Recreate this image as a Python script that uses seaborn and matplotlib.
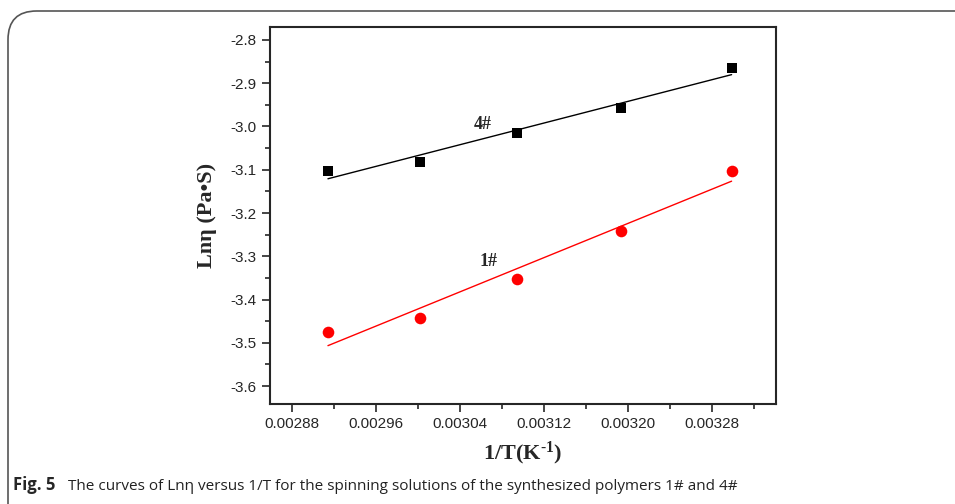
import numpy as np
import pandas as pd
import matplotlib
matplotlib.use('Agg')
import matplotlib.pyplot as plt
from matplotlib.patches import FancyBboxPatch
from matplotlib.ticker import MultipleLocator, FormatStrFormatter
import seaborn as sns

# Data
inv_T = [0.0029142, 0.0030017, 0.0030945, 0.0031934, 0.0032987]
ln_eta_4 = [-3.102, -3.081, -3.016, -2.957, -2.865]
ln_eta_1 = [-3.474, -3.442, -3.352, -3.242, -3.102]
labels = ['4#', '1#']

df = pd.DataFrame({
    'x': inv_T * 2,
    'y': ln_eta_4 + ln_eta_1,
    'sample': [labels[0]] * 5 + [labels[1]] * 5,
})

sns.set_style('ticks')
plt.rcParams['font.family'] = ['Liberation Sans', 'DejaVu Sans']
plt.rcParams['mathtext.fontset'] = 'custom'
plt.rcParams['mathtext.rm'] = 'Liberation Serif:bold'
plt.rcParams['mathtext.bf'] = 'Liberation Serif:bold'
plt.rcParams['mathtext.default'] = 'bf'

fig = plt.figure(figsize=(9.55, 5.04), dpi=100)
ax = fig.add_axes([270 / 955, 1 - 404 / 504, 506 / 955, 377 / 504])

colors = {'4#': 'black', '1#': 'red'}
markers = {'4#': 's', '1#': 'o'}
sizes = {'4#': 55, '1#': 70}
for s in labels:
    sub = df[df['sample'] == s]
    sns.scatterplot(data=sub, x='x', y='y', ax=ax, color=colors[s],
                    marker=markers[s], s=sizes[s], edgecolor=colors[s],
                    linewidth=0, zorder=3)
    # linear fit through each series
    k, b = np.polyfit(sub['x'], sub['y'], 1)
    xs = np.array([sub['x'].min(), sub['x'].max()])
    sns.lineplot(x=xs, y=k * xs + b, ax=ax, color=colors[s], linewidth=1.0)

ax.text(0.003062, -2.995, '4#', family='Liberation Serif', weight='bold',
        fontsize=13, ha='center', va='center')
ax.text(0.003067, -3.312, '1#', family='Liberation Serif', weight='bold',
        fontsize=13, ha='center', va='center')

ax.set_xlim(0.002859, 0.003341)
ax.set_ylim(-3.6415, -2.77)
ax.xaxis.set_major_locator(MultipleLocator(0.00008))
ax.xaxis.set_minor_locator(MultipleLocator(0.00004))
ax.xaxis.set_major_formatter(FormatStrFormatter('%.5f'))
ax.yaxis.set_major_locator(MultipleLocator(0.1))
ax.yaxis.set_minor_locator(MultipleLocator(0.05))
ax.yaxis.set_major_formatter(FormatStrFormatter('%.1f'))
ax.tick_params(which='major', direction='out', length=6, width=1.2,
               labelsize=11, top=False, right=False)
ax.tick_params(which='minor', direction='out', length=3.5, width=1.2,
               top=False, right=False)
for sp in ax.spines.values():
    sp.set_linewidth(1.5)
    sp.set_visible(True)

ax.set_xlabel('1/T(K$^{\\text{-1}}$)', family='Liberation Serif',
              weight='bold', fontsize=16, labelpad=6)
ax.set_ylabel('Lnη (Pa•S)', family='Liberation Serif', weight='bold',
              fontsize=16, labelpad=10)

# rounded frame around the figure
frame = FancyBboxPatch((8 / 955, -0.2), 1.2, 1 - 11 / 504 + 0.2,
                       boxstyle='round,pad=0,rounding_size=0.03',
                       transform=fig.transFigure, fill=False,
                       edgecolor='#555555', linewidth=1.2, clip_on=False,
                       mutation_aspect=955 / 504)
fig.patches.append(frame)

cap_y = 1 - 490 / 504
fig.text(13 / 955, cap_y, 'Fig. 5', family='Open Sans',
         weight='bold', fontsize=12, va='baseline')
fig.text(68 / 955, cap_y,
         'The curves of Lnη versus 1/T for the spinning solutions of the '
         'synthesized polymers 1# and 4#',
         family='Open Sans', fontsize=11, va='baseline', color='#222222')

fig.savefig('out.png', dpi=100)
